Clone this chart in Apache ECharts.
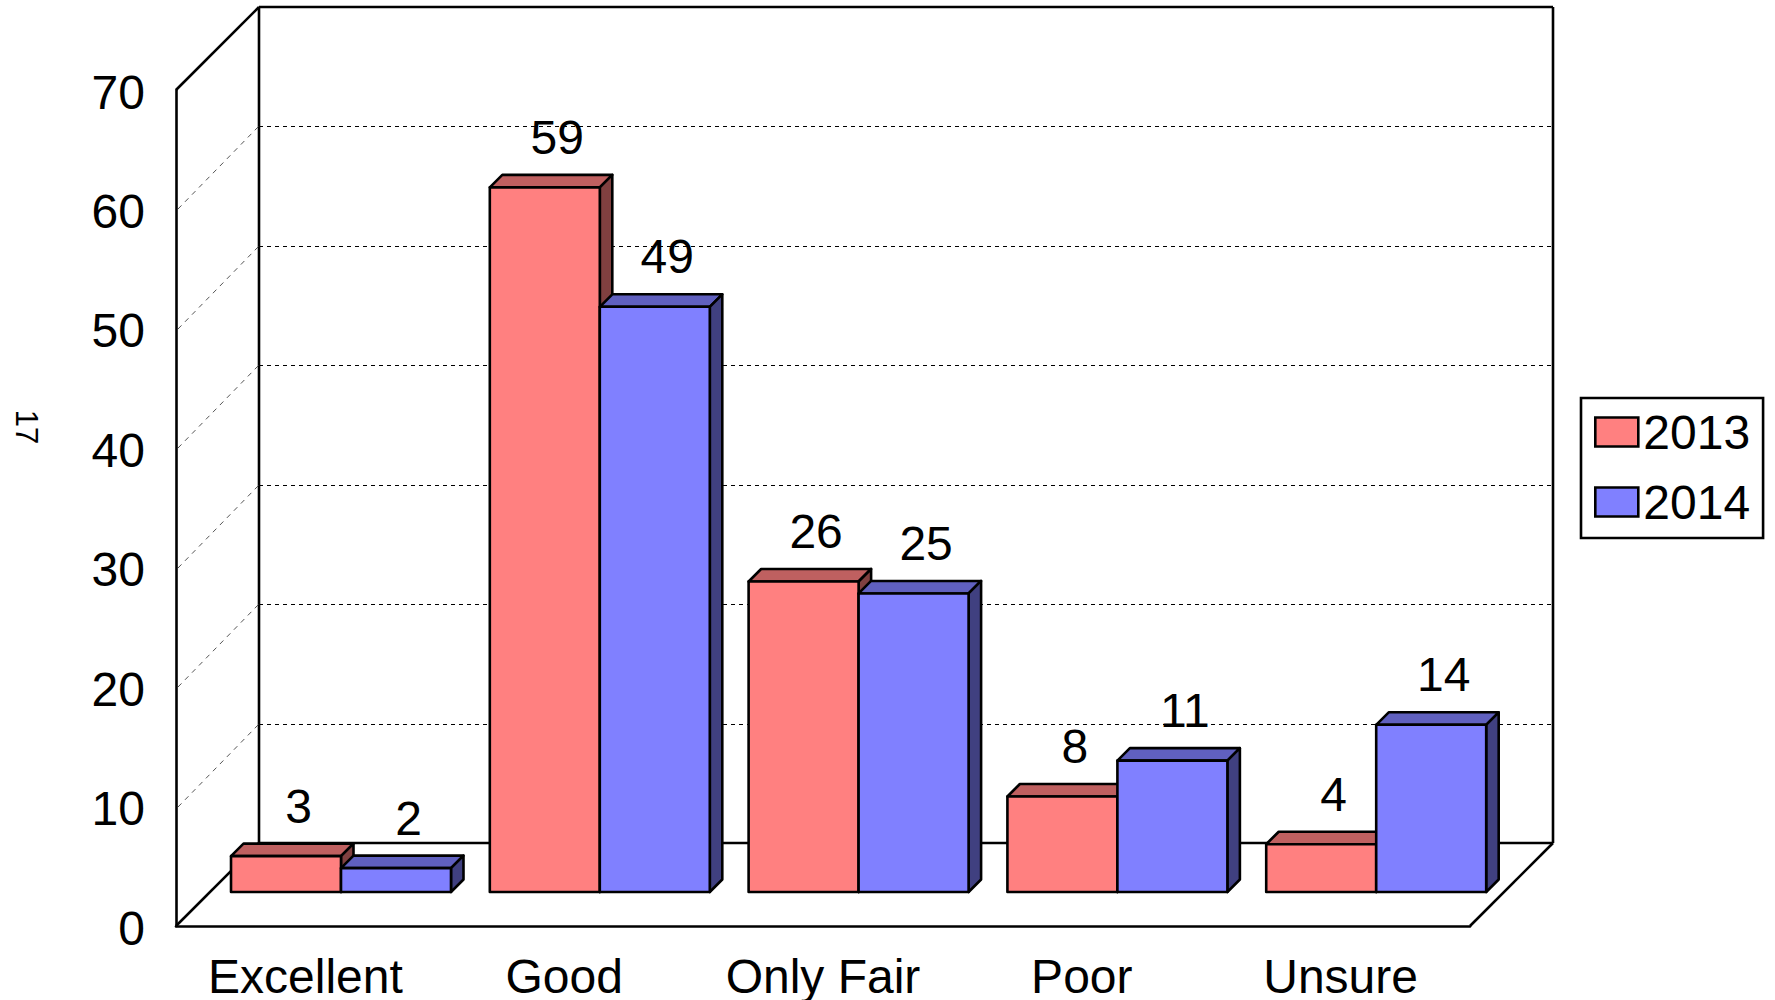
<!DOCTYPE html>
<html>
<head>
<meta charset="utf-8">
<title>Ratings 2013 vs 2014</title>
<script src="https://cdn.jsdelivr.net/npm/echarts@6/dist/echarts.min.js"></script>
<style>
  html, body { margin: 0; padding: 0; background: #fff; }
  #chart { width: 1775px; height: 1000px; }
</style>
</head>
<body>
<div id="chart"></div>
<script>
var categories = ['Excellent', 'Good', 'Only Fair', 'Poor', 'Unsure'];
var values2013 = [3, 59, 26, 8, 4];
var values2014 = [2, 49, 25, 11, 14];
var gridValues = [10, 20, 30, 40, 50, 60];

var font = '"Liberation Sans", Arial, sans-serif';
var wallDepth = 83;    // front plane to back wall
var barShiftX = 35.6;  // bars stand a bit behind the front plane
var barShiftY = 34;
var barDepth = 12.5;
var barRatio = 0.425;  // one bar, as part of a category band

var red = { front: '#FF8080', top: '#BF6060', side: '#804040' };
var blue = { front: '#8080FF', top: '#6060BF', side: '#404080' };

function poly(points, fill, width) {
  return {
    type: 'polygon',
    shape: { points: points },
    style: { fill: fill, stroke: '#000', lineWidth: width, lineJoin: 'round' }
  };
}

function line(x1, y1, x2, y2, stroke, width, dash) {
  return {
    type: 'line',
    shape: { x1: x1, y1: y1, x2: x2, y2: y2 },
    style: { stroke: stroke, lineWidth: width, lineDash: dash || null, fill: null }
  };
}

// back wall, side wall and floor outline
function renderFrame(params, api) {
  var c = params.coordSys;
  var top = api.coord([0, 70])[1];
  var bottom = api.coord([0, 0])[1];
  var left = c.x;
  var right = c.x + c.width;
  var d = wallDepth;
  return {
    type: 'group',
    children: [
      line(left + d, top - d, right + d, top - d, '#000', 2.6),
      line(left + d, top - d, left + d, bottom - d, '#000', 2.6),
      line(right + d, top - d, right + d, bottom - d, '#000', 2.6),
      line(left + d, bottom - d, right + d, bottom - d, '#000', 2.6),
      line(left, top, left + d, top - d, '#000', 2.6),
      line(left, bottom, left + d, bottom - d, '#000', 2.6),
      line(right, bottom, right + d, bottom - d, '#000', 2.6)
    ]
  };
}

function renderGrid(params, api) {
  var c = params.coordSys;
  var y = Math.round(api.coord([0, api.value(0)])[1]);
  var left = c.x;
  var right = c.x + c.width;
  var d = wallDepth;
  return {
    type: 'group',
    children: [
      line(left + 2, y, left + d, y - d, '#555', 1, [5, 5]),
      line(left + d, y - d + 0.5, right + d, y - d + 0.5, '#000', 1, [4, 4])
    ]
  };
}

function barRenderer(colors, side) {
  return function(params, api) {
    var base = api.coord([api.value(0), 0]);
    var tip = api.coord([api.value(0), api.value(1)]);
    var w = api.size([1, 0])[0] * barRatio;
    var x0 = base[0] + barShiftX + (side < 0 ? -w : 0);
    var x1 = x0 + w;
    var y0 = base[1] - barShiftY;
    var y1 = tip[1] - barShiftY;
    var d = barDepth;
    return {
      type: 'group',
      children: [
        poly([[x0, y1], [x0 + d, y1 - d], [x1 + d, y1 - d], [x1, y1]], colors.top, 2.6),
        poly([[x1, y1], [x1 + d, y1 - d], [x1 + d, y0 - d], [x1, y0]], colors.side, 2.6),
        poly([[x0, y0], [x0, y1], [x1, y1], [x1, y0]], colors.front, 2.6),
        {
          type: 'text',
          style: {
            text: String(api.value(1)),
            x: (x0 + x1) / 2 + d,
            y: y1 - 50,
            align: 'center',
            verticalAlign: 'middle',
            fill: '#000',
            font: '48px ' + font
          }
        }
      ]
    };
  };
}

function pairs(values) {
  return values.map(function(v, i) { return [i, v]; });
}

var chart = echarts.init(document.getElementById('chart'), null, { renderer: 'svg' });
chart.setOption({
  animation: false,
  backgroundColor: '#fff',
  grid: { left: 176, top: 90, width: 1294, height: 837 },
  xAxis: {
    type: 'category',
    data: categories,
    axisLine: { lineStyle: { color: '#000', width: 2.6 } },
    axisTick: { show: false },
    axisLabel: { color: '#000', fontSize: 48, fontFamily: font, margin: 26, interval: 0 }
  },
  yAxis: {
    type: 'value',
    min: 0,
    max: 70,
    interval: 10,
    axisLine: { show: true, lineStyle: { color: '#000', width: 2.6 } },
    axisTick: { show: false },
    axisLabel: {
      margin: 31,
      formatter: '{t|{value}}',
      rich: { t: { color: '#000', fontSize: 48, fontFamily: font, padding: [4, 0, 0, 0] } }
    },
    splitLine: { show: false }
  },
  legend: {
    left: 1581,
    top: 398,
    orient: 'vertical',
    padding: [10, 13, 12, 13],
    itemWidth: 43,
    itemHeight: 29,
    itemGap: 22,
    selectedMode: false,
    borderColor: '#000',
    borderWidth: 2.6,
    icon: 'rect',
    itemStyle: { borderColor: '#000', borderWidth: 2.6 },
    textStyle: { color: '#000', fontSize: 48, fontFamily: font },
    data: ['2013', '2014']
  },
  graphic: [{
    type: 'text',
    x: 26,
    y: 427,
    rotation: -Math.PI / 2,
    style: { text: '17', align: 'center', verticalAlign: 'middle', fill: '#000', font: '31px ' + font }
  }],
  series: [
    { type: 'custom', name: 'frame', data: [0], renderItem: renderFrame, silent: true, z: 1 },
    { type: 'custom', name: 'grid', data: gridValues, encode: { y: 0 }, renderItem: renderGrid, silent: true, z: 1 },
    {
      type: 'custom',
      name: '2013',
      data: pairs(values2013),
      encode: { x: 0, y: 1 },
      itemStyle: { color: red.front },
      renderItem: barRenderer(red, -1),
      z: 2
    },
    {
      type: 'custom',
      name: '2014',
      data: pairs(values2014),
      encode: { x: 0, y: 1 },
      itemStyle: { color: blue.front },
      renderItem: barRenderer(blue, 1),
      z: 3
    }
  ]
});
window.addEventListener('resize', function() { chart.resize(); });
</script>
</body>
</html>
